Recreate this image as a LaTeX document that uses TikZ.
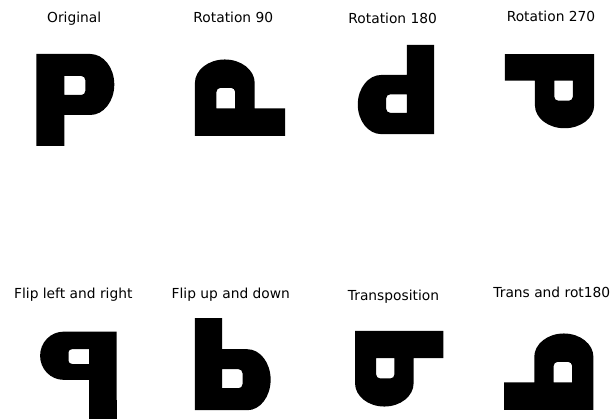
\documentclass[tikz,border=0pt]{standalone}
\usepackage{fontspec}
\setmainfont{DejaVu Sans}

% the letter P, centred on its box, y pointing down
\newcommand{\pletter}{%
  (-39,46) -- (-39,-46) -- (15,-46)
  arc[start angle=-90, end angle=90, x radius=24, y radius=30.5]
  -- (-11,15) -- (-11,46) -- cycle
  (-11,-5) -- (-11,-24) -- (6,-24)
  arc[start angle=-90, end angle=0, radius=4] -- (10,-9)
  arc[start angle=0, end angle=90, radius=4] -- cycle}

\tikzset{
  lbl/.style={font=\fontsize{13.8}{16}\selectfont, anchor=base},
  glyph/.style={fill=black, even odd rule}
}

\begin{document}
\begin{tikzpicture}[x=1pt, y=-1pt]
  \useasboundingbox (0,0) rectangle (612,419);
  % Top row: rotations
  \node[lbl] (orig) at (74.2,22.3) {Original};
  \begin{scope}[shift={(75.3,100)}]
    \fill[glyph] \pletter;
  \end{scope}
  \node[lbl] (rot90) at (233.3,22.3) {Rotation 90};
  \begin{scope}[shift={(240,97.7)}, scale=0.98, rotate=90]
    \fill[glyph] \pletter;
  \end{scope}
  \node[lbl] (rot180) at (392.7,24) {Rotation 180};
  \begin{scope}[shift={(396,89.5)}, xscale=0.98, yscale=0.97, rotate=180]
    \fill[glyph] \pletter;
  \end{scope}
  \node[lbl] (rot270) at (551,21.7) {Rotation 270};
  \begin{scope}[shift={(549.5,91.2)}, xscale=0.97, yscale=0.95, rotate=270]
    \fill[glyph] \pletter;
  \end{scope}
  % Bottom row: flips and transpositions
  \node[lbl] (fliplr) at (73.3,298.3) {Flip left and right};
  \begin{scope}[shift={(78.3,368)}, xscale=-0.98, yscale=0.79]
    \fill[glyph] \pletter;
  \end{scope}
  \fill (89.1,400) rectangle (116.5,419);
  \node[lbl] (flipud) at (230.8,298.3) {Flip up and down};
  \begin{scope}[shift={(232.8,364.2)}, xscale=0.97, yscale=-1]
    \fill[glyph] \pletter;
  \end{scope}
  \node[lbl] (trans) at (393.5,300.7) {Transposition};
  \begin{scope}[shift={(399.2,368.7)}, xscale=0.96, yscale=0.97, cm={0,-1,-1,0,(0,0)}]
    \fill[glyph] \pletter;
  \end{scope}
  \node[lbl] (transrot) at (551.8,297.3) {Trans and rot180};
  \begin{scope}[shift={(548.8,371.7)}, xscale=0.97, yscale=0.98, cm={0,1,1,0,(0,0)}]
    \fill[glyph] \pletter;
  \end{scope}
\end{tikzpicture}
\end{document}
